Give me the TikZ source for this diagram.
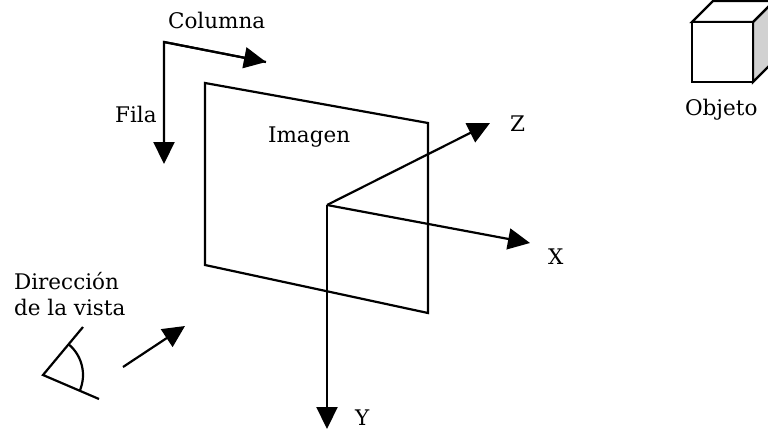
\documentclass[tikz,border=0pt]{standalone}
\usepackage{fontspec}
\setmainfont{DejaVu Serif}
\usetikzlibrary{arrows.meta}
\begin{document}
\begin{tikzpicture}[x=1pt,y=-1pt,
  line width=2.2pt,
  axis/.style={-{Triangle[length=22pt,width=21pt]}},
  lbl/.style={font=\fontsize{21.5}{26}\selectfont, inner sep=0pt, anchor=base west}]
  \useasboundingbox (0,0) rectangle (768,431);

  % image-orientation arrows
  \coordinate (corner) at (164,42);
  \coordinate (coltip) at (266,62);
  \coordinate (rowtip) at (164,164);
  \draw[axis, line join=miter] (coltip) -- (corner) -- (rowtip);
  \draw[axis] (corner) -- (coltip);
  \node[lbl] (columna) at (167,28) {Columna};
  \node[lbl] (fila) at (114,122) {Fila};

  % image plane
  \coordinate (p1) at (205,83);
  \coordinate (p2) at (428,123);
  \coordinate (p3) at (428,313);
  \coordinate (p4) at (205,265);
  \draw[line join=miter] (p1) -- (p2) -- (p3) -- (p4) -- cycle;
  \node[lbl] (imagen) at (267,142) {Imagen};

  % camera axes
  \coordinate (o) at (327,205);
  \coordinate (zt) at (490,123);
  \coordinate (xt) at (530,243);
  \coordinate (yt) at (327,429);
  \draw[axis] (o) -- (zt);
  \draw[axis] (o) -- (xt);
  \draw[axis] (o) -- (yt);
  \node[lbl] (zl) at (509,131) {Z};
  \node[lbl] (xl) at (547,264) {X};
  \node[lbl] (yl) at (354,425) {Y};

  % object cube
  \coordinate (f1) at (692,22);
  \coordinate (f2) at (753,22);
  \coordinate (f3) at (753,82);
  \coordinate (f4) at (692,82);
  \coordinate (b1) at (713,1);
  \coordinate (b2) at (774,1);
  \coordinate (b3) at (774,61);
  \draw[fill=black!18, line join=miter] (f2) -- (b2) -- (b3) -- (f3) -- cycle;
  \draw[fill=white, line join=miter] (f1) -- (b1) -- (b2) -- (f2) -- cycle;
  \draw[fill=white, line join=miter] (f1) rectangle (f3);
  \node[lbl] (objeto) at (684,115) {Objeto};

  % viewing direction: eye symbol and arrow
  \node[lbl, align=left] (dir) at (13,315) {Dirección\\de la vista};
  \coordinate (eye) at (43,375);
  \coordinate (eu) at (83,327);
  \coordinate (el) at (99,399);
  \draw[line join=miter] (eu) -- (eye) -- (el);
  \draw (eye) ++(-50.2:40) arc[start angle=-50.2, end angle=23.2, radius=40];
  \coordinate (vs) at (123,367);
  \coordinate (vt) at (185,326);
  \draw[axis] (vs) -- (vt);
\end{tikzpicture}
\end{document}
